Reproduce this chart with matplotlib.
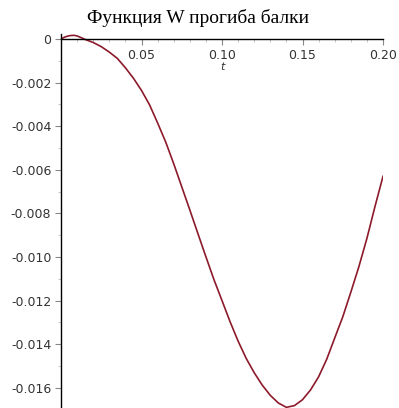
"""
    Функция W прогиба балки
"""
import numpy as np
import matplotlib.pyplot as plt
from matplotlib.ticker import MultipleLocator, FixedLocator

# Данные
t = [0.000, 0.002, 0.004, 0.006, 0.008, 0.010, 0.012, 0.015, 0.020, 0.025,
     0.030, 0.035, 0.040, 0.045, 0.050, 0.055, 0.060, 0.065, 0.070, 0.075,
     0.080, 0.085, 0.090, 0.095, 0.100, 0.105, 0.110, 0.115, 0.120, 0.125,
     0.130, 0.135, 0.140, 0.145, 0.150, 0.155, 0.160, 0.165, 0.170, 0.175,
     0.180, 0.185, 0.190, 0.195, 0.200]
W = [0.0, 0.08e-3, 0.13e-3, 0.16e-3, 0.17e-3, 0.14e-3, 0.08e-3, -0.02e-3, -0.16e-3, -0.35e-3,
     -0.60e-3, -0.89e-3, -1.32e-3, -1.80e-3, -2.36e-3, -3.02e-3, -3.85e-3, -4.72e-3, -5.72e-3, -6.78e-3,
     -7.84e-3, -8.92e-3, -9.99e-3, -11.04e-3, -12.00e-3, -12.97e-3, -13.86e-3, -14.65e-3, -15.31e-3, -15.88e-3,
     -16.35e-3, -16.70e-3, -16.90e-3, -16.82e-3, -16.55e-3, -16.10e-3, -15.50e-3, -14.70e-3, -13.72e-3, -12.75e-3,
     -11.62e-3, -10.45e-3, -9.15e-3, -7.69e-3, -6.30e-3]

x_ticks = [0.05, 0.10, 0.15, 0.20]
x_labels = ['0.05', '0.10', '0.15', '0.20']
y_ticks = [0, -0.002, -0.004, -0.006, -0.008, -0.010, -0.012, -0.014, -0.016]
y_labels = ['0', '-0.002', '-0.004', '-0.006', '-0.008', '-0.010', '-0.012', '-0.014', '-0.016']

fig = plt.figure(figsize=(3.99, 4.08), dpi=100)
ax = fig.add_axes([61 / 399, 0, 322 / 399, 374 / 408])

ax.plot(t, W, color='#8c1a2a', lw=1.2)

ax.set_xlim(0, 0.20)
ax.set_ylim(-0.01693, 0.00023)

# оси как в Maple: пересекаются в нуле
ax.spines['top'].set_visible(False)
ax.spines['right'].set_visible(False)
ax.spines['bottom'].set_position(('data', 0))
ax.spines['left'].set_position(('data', 0))
for s in ('bottom', 'left'):
    ax.spines[s].set_linewidth(1.0)
    ax.spines[s].set_color('black')

ax.xaxis.set_major_locator(FixedLocator(x_ticks))
ax.set_xticklabels(x_labels)
ax.xaxis.set_minor_locator(MultipleLocator(0.01))
ax.yaxis.set_major_locator(FixedLocator(y_ticks))
ax.set_yticklabels(y_labels)
ax.yaxis.set_minor_locator(MultipleLocator(0.001))

ax.tick_params(axis='both', which='major', direction='out', length=4, width=0.8,
               color='#888888', labelsize=9, labelcolor='#333333', pad=3)
ax.tick_params(axis='both', which='minor', direction='out', length=2.5, width=0.6,
               color='#bbbbbb')

ax.text(0.10, -0.00128, 't', fontsize=8, style='italic', ha='center', va='center',
        color='#333333')

fig.text(198 / 399, 1 - 18 / 408, 'Функция W прогиба балки', ha='center', va='center',
         fontsize=14, family='Liberation Serif', color='black')

fig.savefig('out.png', dpi=100)
